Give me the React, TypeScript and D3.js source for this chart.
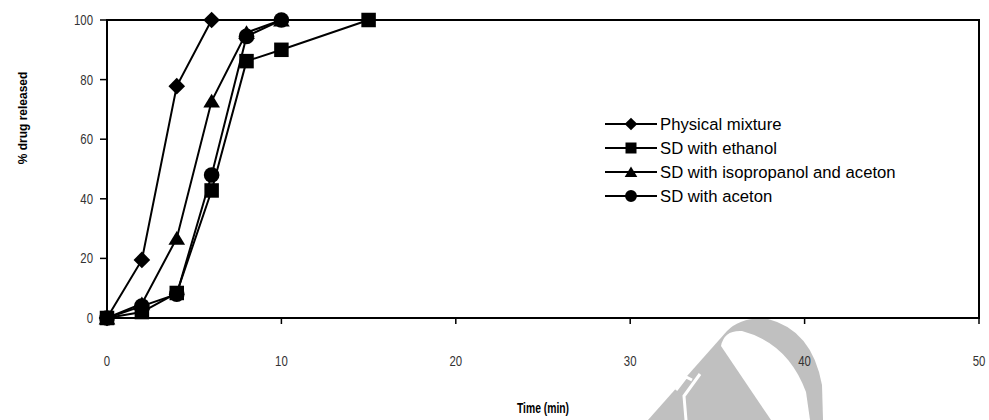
import React from "react";
import * as d3 from "d3";

const times = [0, 2, 4, 6, 8, 10, 15];
const seriesNames = [
  "Physical mixture",
  "SD with ethanol",
  "SD with isopropanol and aceton",
  "SD with aceton",
];
const physicalMixture = [0, 19.5, 77.8, 100];
const sdEthanol = [0, 2, 8.4, 42.8, 86.2, 90, 100];
const sdIsopropanolAceton = [0, 4.8, 26.8, 72.8, 95.8, 100];
const sdAceton = [0, 4, 8, 48, 94.5, 100];
const markerTypes = ["diamond", "square", "triangle", "circle"];
const xTicks = [0, 10, 20, 30, 40, 50];
const yTicks = [0, 20, 40, 60, 80, 100];

const W = 989;
const H = 420;
const left = 107;
const right = 979;
const top = 20;
const bottom = 318;

function markerPath(type: string, s: number): string {
  const h = s / 2;
  if (type === "square") return `M${-h},${-h}H${h}V${h}H${-h}Z`;
  if (type === "diamond") return `M0,${-h * 1.15}L${h * 1.15},0L0,${h * 1.15}L${-h * 1.15},0Z`;
  if (type === "triangle") return `M0,${-h * 1.0}L${h * 1.15},${h * 0.9}L${-h * 1.15},${h * 0.9}Z`;
  return d3.arc()({ innerRadius: 0, outerRadius: h * 1.08, startAngle: 0, endAngle: Math.PI * 2 }) as string;
}

export default function App() {
  const x = d3.scaleLinear().domain([0, 50]).range([left, right]);
  const y = d3.scaleLinear().domain([0, 100]).range([bottom, top]);
  const allSeries = [physicalMixture, sdEthanol, sdIsopropanolAceton, sdAceton];
  const drawOrder = [0, 2, 3, 1];
  const line = d3
    .line<[number, number]>()
    .x((d) => x(d[0]))
    .y((d) => y(d[1]));
  const arial = "'Liberation Sans', Arial, sans-serif";
  const legendRows = [124, 148, 172, 196];

  return (
    <svg width={W} height={H} style={{ display: "block", position: "absolute", left: 0, top: 0 }}>
      <rect x={0} y={0} width={W} height={H} fill="#fff" />
      {/* watermark */}
      <g>
        <path d="M648,420 L727,331 Q742,316 768,319 Q812,330 822,385 L823,420 Z" fill="#c0c0c0" />
        <path d="M721,346 Q724,330 742,331 Q788,343 806,392 L810,420 L771,420 Z" fill="#fff" />
        <path d="M676,390 L686,377 L692,380" fill="none" stroke="#fff" strokeWidth={3} />
        <path d="M700,374 L684,396 L686,420" fill="none" stroke="#fff" strokeWidth={3} />
      </g>
      {/* frame */}
      <rect x={left} y={top} width={right - left} height={bottom - top} fill="none" stroke="#000" strokeWidth={2} />
      {xTicks.map((t) => (
        <g key={"x" + t}>
          <line x1={x(t)} x2={x(t)} y1={bottom} y2={bottom + 6} stroke="#000" strokeWidth={1.5} />
          <text
            transform={`translate(${x(t)},366) scale(0.76,1)`}
            textAnchor="middle"
            fontFamily={arial}
            fontSize={15}
            fill="#333"
          >
            {t}
          </text>
        </g>
      ))}
      {yTicks.map((t) => (
        <g key={"y" + t}>
          <line x1={left - 7} x2={left} y1={y(t)} y2={y(t)} stroke="#000" strokeWidth={1.5} />
          <text
            transform={`translate(93,${y(t) + 5}) scale(0.76,1)`}
            textAnchor="end"
            fontFamily={arial}
            fontSize={15}
            fill="#333"
          >
            {t}
          </text>
        </g>
      ))}
      <text
        transform="translate(543,413) scale(0.74,1)"
        textAnchor="middle"
        fontFamily={arial}
        fontWeight="bold"
        fontSize={14}
        fill="#000"
      >
        Time (min)
      </text>
      <text
        transform={`translate(27,118) rotate(-90)`}
        textAnchor="middle"
        fontFamily={arial}
        fontWeight="bold"
        fontSize={12}
        fill="#000"
      >
        % drug released
      </text>
      {/* series */}
      {drawOrder.map((si) => {
        const pts = allSeries[si].map((v, i) => [times[i], v] as [number, number]);
        return (
          <g key={"s" + si}>
            <path d={line(pts) as string} fill="none" stroke="#000" strokeWidth={2} />
            {pts.map((p, i) => (
              <path
                key={i}
                d={markerPath(markerTypes[si], 14.5)}
                transform={`translate(${x(p[0])},${y(p[1])})`}
                fill="#000"
              />
            ))}
          </g>
        );
      })}
      {/* legend */}
      {seriesNames.map((name, i) => (
        <g key={"l" + i}>
          <line x1={605} x2={657} y1={legendRows[i]} y2={legendRows[i]} stroke="#000" strokeWidth={2} />
          <path d={markerPath(markerTypes[i], 11)} transform={`translate(631,${legendRows[i]})`} fill="#000" />
          <text x={660} y={legendRows[i] + 6} fontFamily={arial} fontSize={16.7} fill="#000">
            {name}
          </text>
        </g>
      ))}
    </svg>
  );
}
